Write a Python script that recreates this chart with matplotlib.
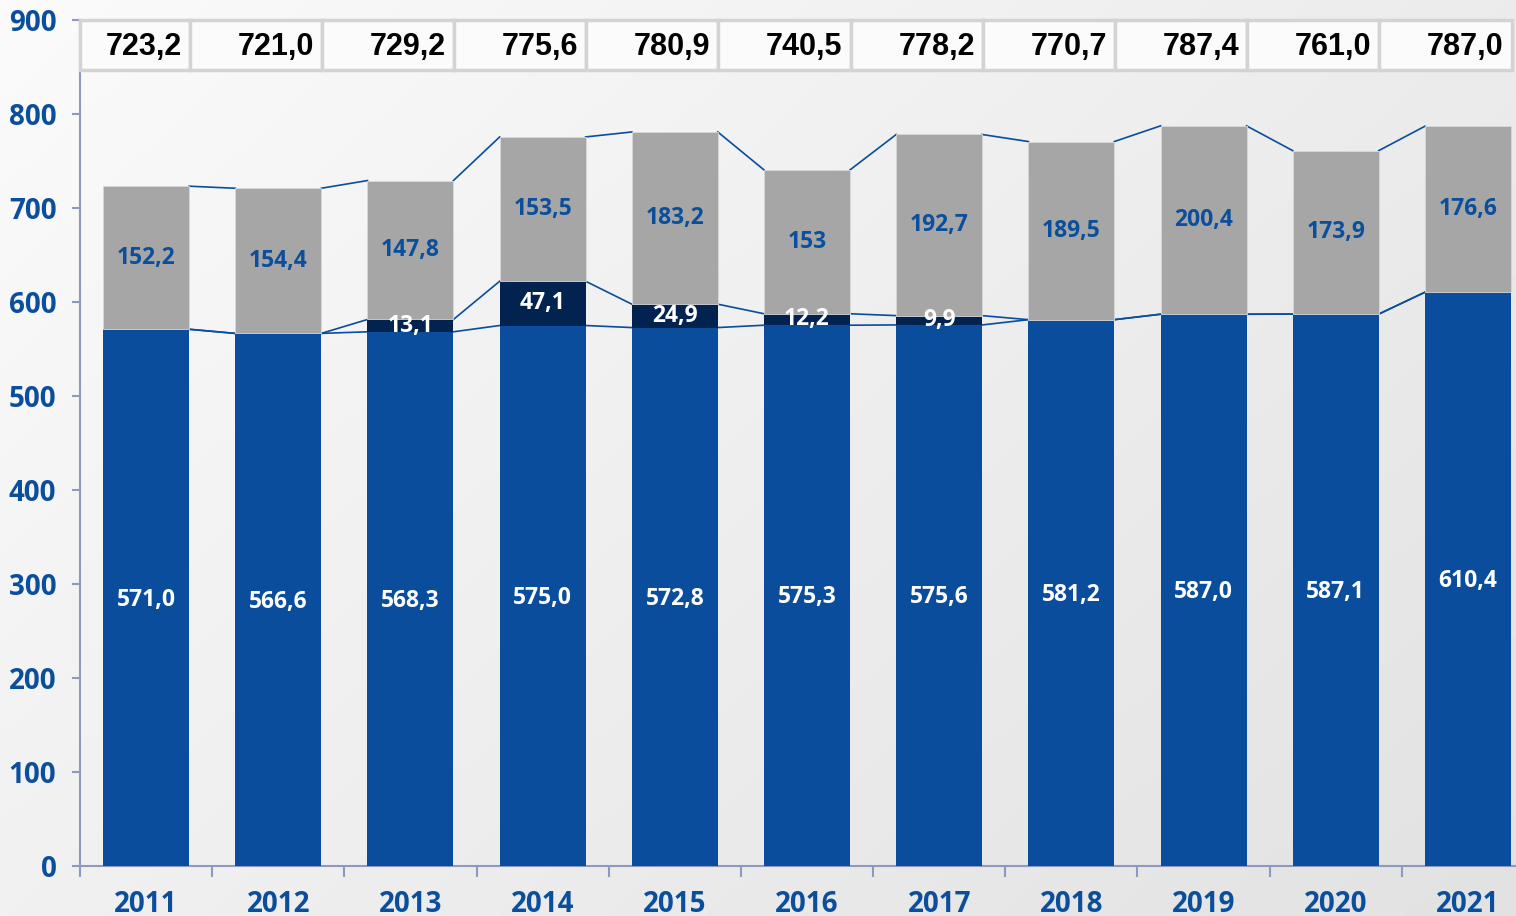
import matplotlib.pyplot as plt
import numpy as np

years = ['2011', '2012', '2013', '2014', '2015', '2016', '2017', '2018', '2019', '2020', '2021']
blue_vals = [571.0, 566.6, 568.3, 575.0, 572.8, 575.3, 575.6, 581.2, 587.0, 587.1, 610.4]
navy_vals = [0, 0, 13.1, 47.1, 24.9, 12.2, 9.9, 0, 0, 0, 0]
gray_vals = [152.2, 154.4, 147.8, 153.5, 183.2, 153.0, 192.7, 189.5, 200.4, 173.9, 176.6]
totals = [723.2, 721.0, 729.2, 775.6, 780.9, 740.5, 778.2, 770.7, 787.4, 761.0, 787.0]
gray_labels = ['152,2', '154,4', '147,8', '153,5', '183,2', '153', '192,7', '189,5', '200,4', '173,9', '176,6']

BLUE = '#0a4d9c'
NAVY = '#02234f'
GRAY = '#a6a6a6'
SPINE = '#8e99c2'
LABEL = '#0b4f9c'
FONT = 'Open Sans'

def fmt(v):
    return f"{v:.1f}".replace('.', ',')

fig = plt.figure(figsize=(15.16, 9.16), dpi=100)

# background gradient
bg = fig.add_axes([0, 0, 1, 1])
gx, gy = np.meshgrid(np.linspace(0, 1, 300), np.linspace(0, 1, 200))
grad = 0.6 * gx + 0.4 * (1 - gy)
bg.imshow(grad, cmap=plt.matplotlib.colors.LinearSegmentedColormap.from_list('g', ['#fbfbfb', '#e2e2e2']),
          aspect='auto', extent=[0, 1, 0, 1], origin='lower')
bg.axis('off')

# axes runs slightly past the right edge of the figure (last category is cut)
ax = fig.add_axes([80 / 1516, 50 / 916, 1454 / 1516, 846 / 916])
ax.patch.set_alpha(0)

x = np.arange(len(years))
w = 0.65
blue = np.array(blue_vals)
navy = np.array(navy_vals)
gray = np.array(gray_vals)

ax.bar(x, blue, w, color=BLUE, zorder=3)
ax.bar(x, navy, w, bottom=blue, color=NAVY, zorder=3)
ax.bar(x, gray, w, bottom=blue + navy, color=GRAY, edgecolor='#d8d8d8', linewidth=0.6, zorder=3)

# series lines between bars
for tops in [blue, blue + navy, blue + navy + gray]:
    for i in range(len(x) - 1):
        ax.plot([x[i] + w / 2, x[i + 1] - w / 2], [tops[i], tops[i + 1]], color=BLUE, lw=1.2, zorder=2)

# labels
for i in range(len(x)):
    ax.text(x[i], blue[i] / 2 - 2, fmt(blue[i]), ha='center', va='center', color='white',
            fontsize=16.5, fontweight='bold', family=FONT, zorder=4)
    if navy[i] > 0:
        ax.text(x[i], blue[i] + navy[i] / 2, fmt(navy[i]), ha='center', va='center', color='white',
                fontsize=16.5, fontweight='bold', family=FONT, zorder=4)
    ax.text(x[i], blue[i] + navy[i] + gray[i] / 2, gray_labels[i], ha='center', va='center', color=LABEL,
            fontsize=16.5, fontweight='bold', family=FONT, zorder=4)

# totals row as boxes at the top
edges = [-0.5] + [i + 0.33 for i in range(len(x))]
for i in range(len(x)):
    ax.add_patch(plt.Rectangle((edges[i], 847), edges[i + 1] - edges[i], 53, facecolor='#fbfbfb',
                               edgecolor='#d3d3d3', lw=2.5, zorder=5, clip_on=False))
    ax.text(edges[i + 1] - 0.06, 871, fmt(totals[i]), ha='right', va='center', color='black',
            fontsize=22, fontweight='bold', family='Liberation Sans', zorder=6)

ax.set_xlim(-0.5, 10.5)
ax.set_ylim(0, 900)
ax.set_yticks(range(0, 901, 100))
ax.set_xticks(x)
ax.set_xticklabels(years)
ax.set_xticks(np.arange(-0.5, 11, 1), minor=True)
ax.tick_params(axis='x', which='major', length=0, pad=17)
ax.tick_params(axis='x', which='minor', length=8, color=SPINE, width=1.5)
ax.tick_params(axis='y', length=6, color=SPINE, width=1.5, pad=11)
for lab in ax.get_xticklabels() + ax.get_yticklabels():
    lab.set_color(LABEL)
    lab.set_fontweight('bold')
    lab.set_family(FONT)
    lab.set_fontsize(20)
for s in ['top', 'right']:
    ax.spines[s].set_visible(False)
for s in ['left', 'bottom']:
    ax.spines[s].set_color(SPINE)
    ax.spines[s].set_linewidth(1.5)

fig.savefig('out.png', dpi=100)
